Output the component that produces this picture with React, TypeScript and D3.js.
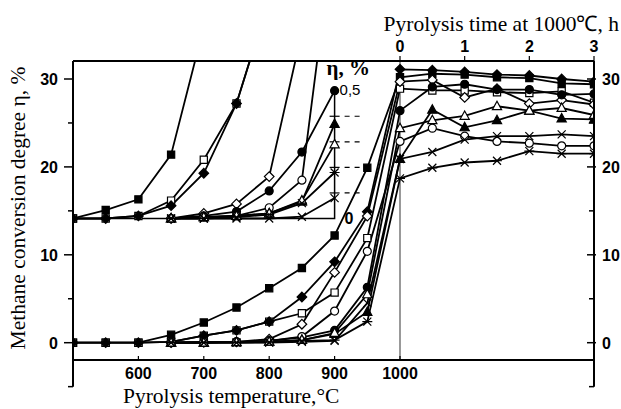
import { useEffect, useRef } from "react";
import * as d3 from "d3";

// temperature ramp (main panel) and holding time at 1000 C
const tempC = [500, 550, 600, 650, 700, 750, 800, 850, 900, 950];
const timeH = [0, 0.5, 1, 1.5, 2, 2.5, 3];
const insetTempC = [500, 550, 600, 650, 700, 750, 800, 850, 900];

const bottomTicks = [600, 700, 800, 900, 1000];
const topTicks = [0, 1, 2, 3];
const yMajor = [0, 10, 20, 30];
const yMinor = [-5, 5, 15, 25];
const insetTicks = [0.1, 0.2, 0.3, 0.4];

// methane conversion degree, % (main panel, vs temperature)
const tSquareFill = [0, 0, 0, 0.9, 2.3, 4.0, 6.2, 8.5, 12.2, 19.9];
const tSquareOpen = [0, 0, 0, 0.1, 0.8, 1.4, 2.4, 3.35, 5.7, 11.9];
const tDiamondFill = [0, 0, 0, 0.1, 0.8, 1.4, 2.4, 5.2, 9.2, 14.9];
const tDiamondOpen = [null, null, null, 0, 0.05, 0.1, 0.4, 2.1, 8.0, 14.4];
const tCircleFill = [null, null, null, 0, 0.05, 0.1, 0.2, 0.6, 1.4, 6.3];
const tCircleOpen = [null, null, null, 0, 0.05, 0.1, 0.2, 0.7, 3.6, 10.4];
const tTriFill = [null, null, null, 0, 0, 0.05, 0.1, 0.3, 1.0, 3.5];
const tTriOpen = [null, null, null, 0, 0, 0.05, 0.1, 0.3, 1.1, 5.5];
const tCross = [null, null, null, 0, 0, 0, 0, 0.1, 0.2, 4.5];
const tStar = [null, null, null, 0, 0, 0, 0.05, 0.2, 0.3, 2.4];

// conversion degree, % vs time at 1000 C
const hSquareFill = [30.2, 30.6, 30.5, 30.2, 30.1, 29.5, 29.4];
const hSquareOpen = [28.9, 28.7, 28.7, 28.5, 28.4, 28.6, 27.3];
const hDiamondFill = [31.1, 31.0, 30.8, 30.5, 30.4, 30.0, 29.7];
const hDiamondOpen = [29.7, 29.9, 27.9, 28.9, 27.2, 27.6, 27.1];
const hCircleFill = [26.4, 29.1, 29.4, 28.8, 28.8, 28.2, 28.3];
const hCircleOpen = [22.9, 24.4, 23.5, 22.9, 22.7, 22.4, 22.4];
const hTriFill = [20.9, 26.5, 24.5, 25.3, 26.4, 25.5, 25.4];
const hTriOpen = [24.4, 25.3, 25.8, 26.9, 26.4, 26.7, 25.9];
const hCross = [20.9, 21.7, 23.1, 23.5, 23.5, 23.7, 23.5];
const hStar = [18.7, 19.9, 20.5, 20.7, 21.8, 21.5, 21.5];

// inset, low-temperature region, %
const iSquareFill = [0, 0.033, 0.075, 0.25, 0.75, null, null, null, null];
const iSquareOpen = [0, 0, 0.01, 0.07, 0.23, 0.45, 0.86, null, null];
const iDiamondFill = [0, 0, 0.01, 0.05, 0.177, 0.45, 0.86, null, null];
const iDiamondOpen = [null, null, null, 0, 0.02, 0.057, 0.164, 0.73, null];
const iCircleFill = [null, null, null, 0, 0.01, 0.027, 0.108, 0.26, 0.5];
const iCircleOpen = [null, null, null, 0, 0.005, 0.01, 0.042, 0.15, 1.15];
const iTriFill = [null, null, null, 0, 0.005, 0.01, 0.02, 0.066, 0.37];
const iTriOpen = [null, null, null, 0, 0.005, 0.01, 0.02, 0.07, 0.29];
const iCross = [null, null, null, 0, 0, 0, 0, 0.007, 0.08];
const iStar = [null, null, null, 0, 0, 0.005, 0.015, 0.06, 0.18];

const series = [
  { mark: "square", filled: true, temp: tSquareFill, time: hSquareFill, inset: iSquareFill },
  { mark: "square", filled: false, temp: tSquareOpen, time: hSquareOpen, inset: iSquareOpen },
  { mark: "diamond", filled: true, temp: tDiamondFill, time: hDiamondFill, inset: iDiamondFill },
  { mark: "diamond", filled: false, temp: tDiamondOpen, time: hDiamondOpen, inset: iDiamondOpen },
  { mark: "circle", filled: true, temp: tCircleFill, time: hCircleFill, inset: iCircleFill },
  { mark: "circle", filled: false, temp: tCircleOpen, time: hCircleOpen, inset: iCircleOpen },
  { mark: "triangle", filled: true, temp: tTriFill, time: hTriFill, inset: iTriFill },
  { mark: "triangle", filled: false, temp: tTriOpen, time: hTriOpen, inset: iTriOpen },
  { mark: "cross", filled: false, temp: tCross, time: hCross, inset: iCross },
  { mark: "star", filled: false, temp: tStar, time: hStar, inset: iStar },
];

const markPath = (kind: string) => {
  if (kind === "square") return "M-3.6,-3.6h7.2v7.2h-7.2Z";
  if (kind === "diamond") return "M0,-4.8L4.8,0L0,4.8L-4.8,0Z";
  if (kind === "circle") return "M4,0A4,4 0 1,1 -4,0A4,4 0 1,1 4,0Z";
  if (kind === "triangle") return "M0,-5L4.6,3.4L-4.6,3.4Z";
  if (kind === "cross") return "M-4,-4L4,4M-4,4L4,-4";
  return "M-4,-4L4,4M-4,4L4,-4M-5,0L5,0";
};

const markFill = (s: any) =>
  s.filled ? "black" : s.mark === "cross" || s.mark === "star" ? "none" : "white";

const sans = "'Liberation Sans', Arial, sans-serif";
const serif = "'Liberation Serif', 'Times New Roman', serif";

const App = () => {
  const ref = useRef<SVGSVGElement>(null);

  useEffect(() => {
    const svg = d3.select(ref.current);
    svg.selectAll("*").remove();

    const left = 73, right = 594, top = 61, bottom = 360;
    const x = d3.scaleLinear().domain([500, 1000]).range([left, 400]);
    const xt = d3.scaleLinear().domain([0, 3]).range([400, right]);
    const y = d3.scaleLinear().domain([0, 30]).range([342.7, 79]);
    const yi = d3.scaleLinear().domain([0, 0.5]).range([218.5, 90.7]);

    svg
      .append("clipPath")
      .attr("id", "plotClip")
      .append("rect")
      .attr("x", left)
      .attr("y", top)
      .attr("width", right - left)
      .attr("height", bottom - top);

    // gray 1000 C divider
    svg
      .append("line")
      .attr("x1", x(1000))
      .attr("x2", x(1000))
      .attr("y1", top)
      .attr("y2", bottom)
      .attr("stroke", "#999")
      .attr("stroke-width", 2);

    // inset frame
    svg
      .append("path")
      .attr("d", `M${left},${yi(0)}H${x(900)}V${yi(0.5) - 3}`)
      .attr("fill", "none")
      .attr("stroke", "black")
      .attr("stroke-width", 1.5);
    insetTicks.forEach((v) => {
      svg
        .append("line")
        .attr("x1", x(900) - 5)
        .attr("x2", x(900) + 5)
        .attr("y1", yi(v))
        .attr("y2", yi(v))
        .attr("stroke", "black")
        .attr("stroke-width", 1.2);
      svg
        .append("line")
        .attr("x1", x(900) + 10)
        .attr("x2", x(900) + 25)
        .attr("y1", yi(v))
        .attr("y2", yi(v))
        .attr("stroke", "black")
        .attr("stroke-width", 1.2)
        .attr("stroke-dasharray", "5,5");
    });

    const plot = svg.append("g").attr("clip-path", "url(#plotClip)");
    const line = d3
      .line<[number, number | null]>()
      .defined((d) => d[1] != null)
      .x((d) => d[0])
      .y((d) => d[1] as number);

    const mainPts = (s: any) =>
      [
        ...tempC.map((t, i) => [x(t), s.temp[i] == null ? null : y(s.temp[i])]),
        ...timeH.map((h, i) => [xt(h), y(s.time[i])]),
      ] as [number, number | null][];
    const insetPts = (s: any) =>
      insetTempC.map((t, i) => [x(t), s.inset[i] == null ? null : yi(s.inset[i])]) as [
        number,
        number | null
      ][];

    // inset lines and markers
    series.forEach((s) => {
      plot
        .append("path")
        .attr("d", line(insetPts(s)))
        .attr("fill", "none")
        .attr("stroke", "black")
        .attr("stroke-width", 1.8);
    });
    series.forEach((s) => {
      insetPts(s)
        .filter((p) => p[1] != null && (p[1] as number) > top + 2)
        .forEach((p) => {
          plot
            .append("path")
            .attr("transform", `translate(${p[0]},${p[1]})`)
            .attr("d", markPath(s.mark))
            .attr("fill", markFill(s))
            .attr("stroke", "black")
            .attr("stroke-width", 1.2);
        });
    });

    // main lines and markers
    series.forEach((s) => {
      plot
        .append("path")
        .attr("d", line(mainPts(s)))
        .attr("fill", "none")
        .attr("stroke", "black")
        .attr("stroke-width", 1.8);
    });
    series.forEach((s) => {
      mainPts(s)
        .filter((p) => p[1] != null)
        .forEach((p) => {
          plot
            .append("path")
            .attr("transform", `translate(${p[0]},${p[1]})`)
            .attr("d", markPath(s.mark))
            .attr("fill", markFill(s))
            .attr("stroke", "black")
            .attr("stroke-width", 1.2);
        });
    });

    // frame
    const ax = svg.append("g");
    [
      `M${left},${top}H${right}`,
      `M${left},${bottom}H${right}`,
      `M${left},${top}V${y(-5)}`,
      `M${right},${top}V${y(-5)}`,
    ].forEach((d) => {
      ax.append("path").attr("d", d).attr("fill", "none").attr("stroke", "black").attr("stroke-width", 2);
    });

    const tickLabel = (g: any, tx: number, ty: number, anchor: string, txt: string | number) =>
      g
        .append("text")
        .attr("x", tx)
        .attr("y", ty)
        .attr("text-anchor", anchor)
        .style("font-family", sans)
        .style("font-size", "16px")
        .style("font-weight", "bold")
        .text(txt);

    // left / right ticks
    yMajor.forEach((v) => {
      ax.append("line").attr("x1", left - 9).attr("x2", left).attr("y1", y(v)).attr("y2", y(v)).attr("stroke", "black").attr("stroke-width", 1.5);
      ax.append("line").attr("x1", right - 7).attr("x2", right + 2).attr("y1", y(v)).attr("y2", y(v)).attr("stroke", "black").attr("stroke-width", 1.5);
      tickLabel(ax, left - 15, y(v) + 6, "end", v);
      tickLabel(ax, right + 8, y(v) + 6, "start", v);
    });
    yMinor.forEach((v) => {
      ax.append("line").attr("x1", left - 5).attr("x2", left).attr("y1", y(v)).attr("y2", y(v)).attr("stroke", "black").attr("stroke-width", 1.5);
      ax.append("line").attr("x1", right - 5).attr("x2", right).attr("y1", y(v)).attr("y2", y(v)).attr("stroke", "black").attr("stroke-width", 1.5);
    });

    // bottom temperature axis
    bottomTicks.forEach((t) => {
      ax.append("line").attr("x1", x(t)).attr("x2", x(t)).attr("y1", bottom - 4).attr("y2", bottom).attr("stroke", "black").attr("stroke-width", 1.2);
      tickLabel(ax, x(t), bottom + 19, "middle", t);
    });

    // top time axis
    topTicks.forEach((h) => {
      ax.append("line").attr("x1", xt(h)).attr("x2", xt(h)).attr("y1", top - 5).attr("y2", top).attr("stroke", "black").attr("stroke-width", 1.2);
      tickLabel(ax, xt(h), top - 9, "middle", h);
    });

    // inset labels
    ax.append("text")
      .attr("x", x(900) + 5)
      .attr("y", yi(0.5) + 4)
      .style("font-family", sans)
      .style("font-size", "15px")
      .text("0,5");
    tickLabel(ax, x(900) + 10, yi(0) + 5, "start", 0);
    ax.append("text")
      .attr("x", x(900) - 8)
      .attr("y", yi(0.5) - 16)
      .style("font-family", serif)
      .style("font-size", "21px")
      .style("font-weight", "bold")
      .text("η, %");

    // titles
    svg
      .append("text")
      .attr("x", 123)
      .attr("y", 403)
      .style("font-family", serif)
      .style("font-size", "21.5px")
      .text("Pyrolysis temperature,°C");
    svg
      .append("text")
      .attr("x", 619)
      .attr("y", 31)
      .attr("text-anchor", "end")
      .style("font-family", serif)
      .style("font-size", "21.5px")
      .text("Pyrolysis time at 1000℃, h");
    svg
      .append("text")
      .attr("transform", "translate(25,208) rotate(-90)")
      .attr("text-anchor", "middle")
      .style("font-family", serif)
      .style("font-size", "21.5px")
      .text("Methane conversion degree η, %");
  }, []);

  return (
    <svg
      ref={ref}
      width={621}
      height={409}
      style={{ position: "absolute", left: 0, top: 0, background: "white" }}
    />
  );
};

export default App;
